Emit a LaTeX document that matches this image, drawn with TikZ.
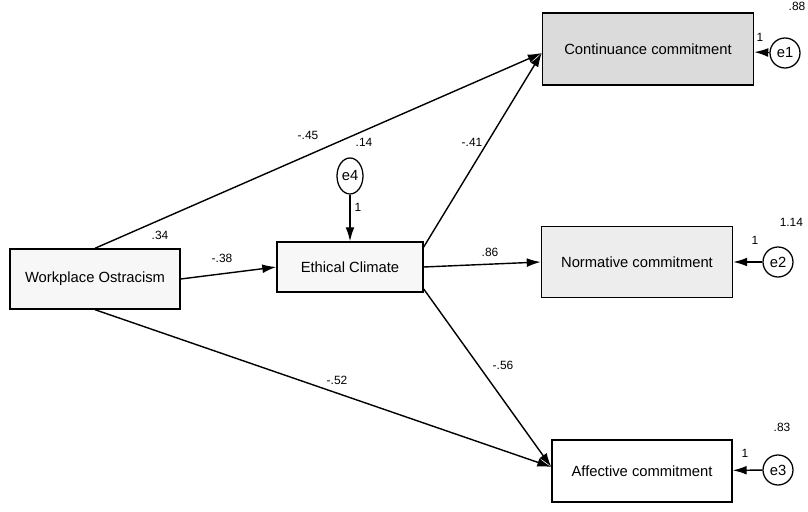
\documentclass[tikz,border=0pt]{standalone}
\usepackage{fontspec}
\setmainfont{Liberation Sans}
\usetikzlibrary{arrows.meta,shapes.geometric}
\begin{document}
\begin{tikzpicture}[
		varbox/.style={draw, line width=1pt, fill=gray!6, font=\fontsize{10.5}{12}\selectfont},
		errvar/.style={draw, circle, line width=0.9pt, inner sep=0pt, minimum size=0.75cm, font=\fontsize{10.5}{12}\selectfont},
		path/.style={-{Latex[length=3.5mm,width=2.2mm]}, line width=1pt},
		coef/.style={font=\fontsize{8.5}{9}\selectfont}
	]
			\useasboundingbox (0,0) rectangle (20.2,-12.8);
			%Observed variables
			\node[varbox, minimum width=4.25cm, minimum height=1.5cm] (WO) at (2.375,-6.975) {Workplace Ostracism};
			\node[varbox, minimum width=3.65cm, minimum height=1.25cm] (EC) at (8.75,-6.675) {Ethical Climate};
			\node[varbox, fill=gray!28, minimum width=5.275cm, minimum height=1.8cm] (CC) at (16.2,-1.225) {Continuance commitment};
			\node[varbox, fill=gray!14, minimum width=4.775cm, minimum height=1.775cm] (NC) at (15.925,-6.55) {Normative commitment};
			\node[varbox, fill=white, minimum width=4.5cm, minimum height=1.55cm] (AC) at (16.05,-11.775) {Affective commitment};
			%Errors
			\node[errvar] (e1) at (19.625,-1.325) {e1};
			\node[errvar] (e2) at (19.45,-6.55) {e2};
			\node[errvar] (e3) at (19.45,-11.75) {e3};
			\node[errvar, ellipse, minimum width=0.65cm, minimum height=0.9cm] (e4) at (8.75,-4.4) {e4};
			%Paths
			\draw[path] (WO.north) -- ([yshift=-0.1cm]CC.west);
			\draw[path] (WO.east) -- (EC.west);
			\draw[path] (WO.south) -- ([yshift=0.1cm]AC.west);
			\draw[path] ([yshift=0.5cm]EC.east) -- ([yshift=-0.1cm]CC.west);
			\draw[path] (EC.east) -- (NC.west);
			\draw[path] ([yshift=-0.55cm]EC.east) -- ([yshift=0.1cm]AC.west);
			\draw[path] (e1) -- (CC);
			\draw[path] (e2) -- (NC);
			\draw[path] (e3) -- (AC);
			\draw[path] (e4) -- (EC);
			%Estimates
			\node[coef] (l1) at (7.7,-3.375) {-.45};
			\node[coef] (l2) at (9.1,-3.55) {.14};
			\node[coef] (l3) at (11.8,-3.55) {-.41};
			\node[coef] (l4) at (4.0,-5.875) {.34};
			\node[coef] (l5) at (5.55,-6.45) {-.38};
			\node[coef] (l6) at (12.25,-6.3) {.86};
			\node[coef] (l7) at (12.575,-9.125) {-.56};
			\node[coef] (l8) at (8.425,-9.5) {-.52};
			\node[coef] (l9) at (8.95,-5.175) {1};
			\node[coef] (l10) at (19.925,-0.15) {.88};
			\node[coef] (l11) at (19.0,-0.925) {1};
			\node[coef, anchor=east] (l12) at (20.2,-5.55) {1.14};
			\node[coef] (l13) at (18.875,-6.0) {1};
			\node[coef] (l14) at (19.55,-10.675) {.83};
			\node[coef] (l15) at (18.625,-11.325) {1};
		\end{tikzpicture}
\end{document}
